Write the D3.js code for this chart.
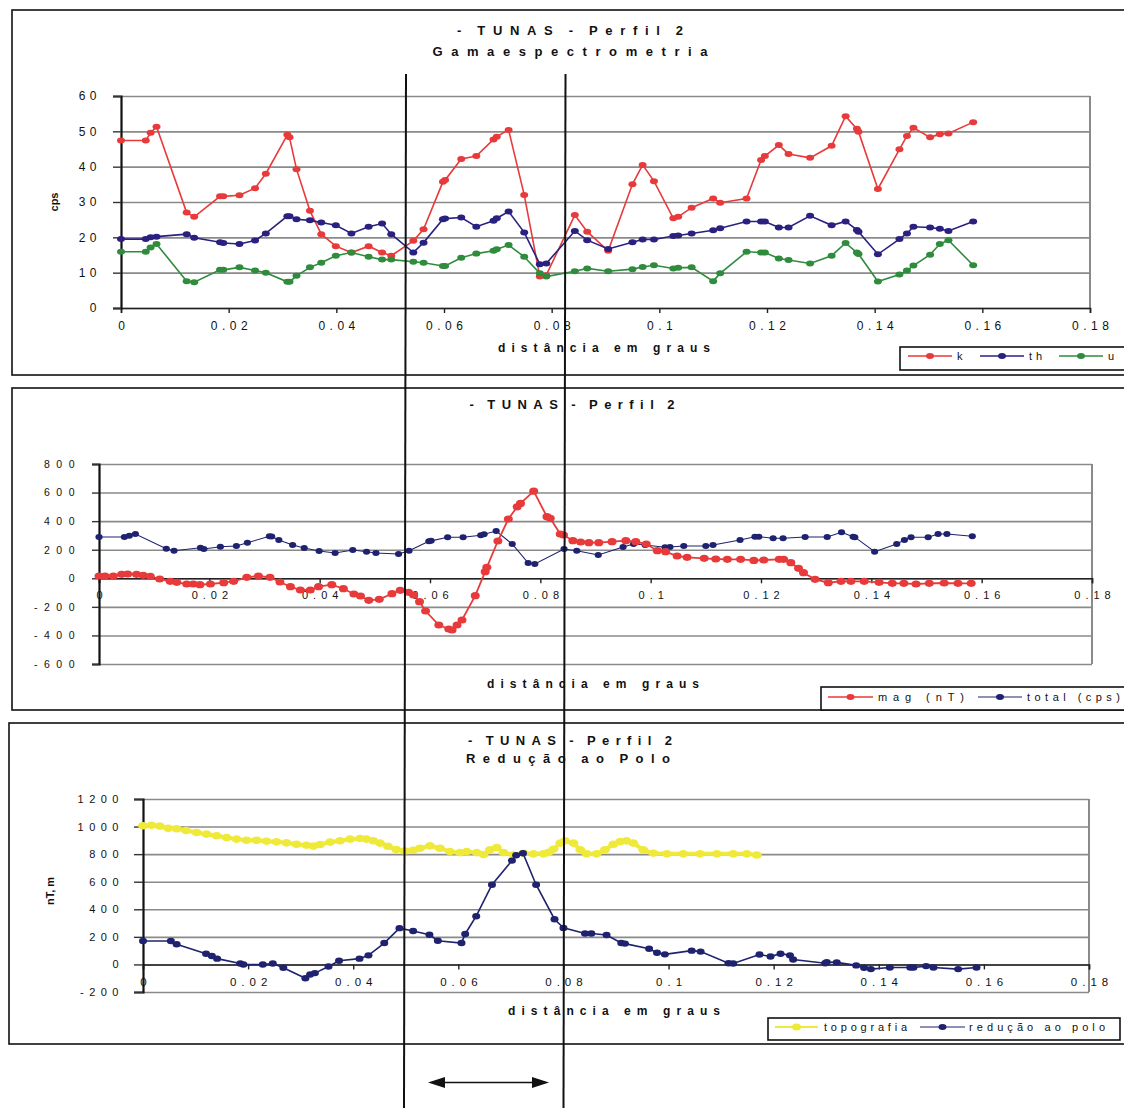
<!DOCTYPE html>
<html>
<head>
<meta charset="utf-8">
<script src="https://cdn.jsdelivr.net/npm/d3@7"></script>
<style>
  body { margin: 0; background: #fff; }
  svg { display: block; }
  text { font-family: "Liberation Sans", Arial, sans-serif; fill: #111; }
</style>
</head>
<body>
<svg id="chart" width="1124" height="1108"></svg>
<script>
// ---- Gamma spectrometry: station distances (degrees) and counts (cps)
const gammaDist = [0,0.0046,0.0055,0.0066,0.0122,0.0136,0.0184,0.019,0.022,0.0249,
  0.0269,0.0309,0.0313,0.0326,0.0351,0.0372,0.0399,0.0428,0.046,0.0485,
  0.0502,0.0543,0.0562,0.0598,0.0602,0.0632,0.066,0.0692,0.0698,0.072,
  0.0749,0.0778,0.079,0.0843,0.0866,0.0905,0.095,0.0969,0.099,0.1026,
  0.1035,0.106,0.11,0.1113,0.1162,0.1189,0.1196,0.1222,0.124,0.128,
  0.132,0.1346,0.1367,0.137,0.1406,0.1446,0.146,0.1472,0.1503,0.1521,
  0.1537,0.1583];
const kCps = [47.4,47.4,49.6,51.3,27.0,25.8,31.6,31.6,31.9,33.9,
  38.0,49.0,48.3,39.3,27.5,20.9,17.5,15.7,17.5,15.7,
  14.8,19.0,22.3,35.7,36.2,42.2,43.0,47.7,48.5,50.4,
  32.0,8.9,9.3,26.3,21.6,16.2,35.0,40.5,35.9,25.4,
  25.8,28.4,31.0,29.8,31.0,41.9,43.0,46.1,43.6,42.5,
  45.9,54.3,50.7,49.9,33.7,44.9,48.7,51.0,48.3,49.2,
  49.4,52.6];
const thCps = [19.5,19.5,20.0,20.2,20.9,19.9,18.6,18.4,18.1,19.1,
  21.1,26.0,26.0,25.1,24.8,24.2,23.4,21.1,23.0,23.9,
  20.9,15.7,18.5,25.1,25.3,25.6,23.0,24.7,25.4,27.3,
  21.4,12.4,12.6,21.8,19.2,16.7,18.6,19.4,19.4,20.4,
  20.5,21.1,22.0,22.6,24.5,24.5,24.5,22.8,22.8,26.1,
  23.4,24.5,22.1,21.6,15.2,19.5,21.1,23.0,22.8,22.4,
  21.8,24.5];
const uCps = [15.9,15.9,17.1,18.1,7.6,7.3,10.8,10.8,11.5,10.6,
  10.0,7.4,7.4,9.1,11.5,12.8,14.8,15.7,14.5,13.7,
  13.7,13.1,12.8,11.9,11.9,14.2,15.4,16.2,16.6,17.8,
  14.5,9.8,8.9,10.4,11.2,10.4,11.0,11.6,12.1,11.2,
  11.4,11.5,7.6,9.8,15.9,15.7,15.7,14.0,13.6,12.6,
  14.8,18.4,15.7,15.3,7.5,9.5,10.6,12.0,15.1,18.1,
  19.2,12.1];
const totalCps = [289,289,298,310,207,193,214,205,221,226,
  249,294,292,268,233,212,191,177,198,186,
  177,170,193,259,262,287,287,301,308,331,
  240,107,100,205,193,163,219,240,233,217,
  219,226,226,233,268,291,291,280,280,289,
  289,322,291,288,186,240,268,287,287,310,
  310,294];

// ---- Magnetometry (nT)
const magDist = [0,0.0011,0.0026,0.0041,0.0052,0.0068,0.008,0.0093,0.011,0.0129,
  0.0141,0.0159,0.0171,0.0183,0.0202,0.0226,0.0244,0.0268,0.0289,0.031,
  0.0328,0.0347,0.0365,0.0383,0.0398,0.0422,0.0443,0.0462,0.0474,0.0489,
  0.0508,0.0531,0.0546,0.0561,0.057,0.0581,0.0592,0.0616,0.0634,0.064,
  0.0649,0.0658,0.0682,0.07,0.0703,0.0723,0.0742,0.0758,0.0764,0.0788,
  0.0812,0.0818,0.0836,0.0842,0.0859,0.0873,0.0888,0.0906,0.093,0.0955,
  0.0973,0.0992,0.1012,0.1027,0.1048,0.1066,0.1097,0.1118,0.1139,0.1163,
  0.1187,0.1205,0.1233,0.1241,0.1254,0.1268,0.1277,0.1298,0.1322,0.1345,
  0.1363,0.1387,0.1414,0.1438,0.1459,0.1481,0.1505,0.1532,0.1557,0.1581];
const magNT = [16,16,16,28,30,28,21,14,-5,-21,
  -28,-40,-40,-45,-40,-31,-21,7,16,7,
  -26,-59,-82,-82,-59,-45,-73,-110,-124,-154,
  -147,-108,-84,-98,-117,-164,-229,-327,-355,-362,
  -327,-292,-122,46,77,261,415,500,524,610,
  431,420,310,303,263,254,249,249,256,263,
  256,240,193,186,156,147,140,135,133,133,
  125,128,133,133,109,70,39,-7,-31,-21,
  -21,-21,-28,-35,-35,-40,-35,-33,-35,-35];

// ---- Topography (m)
const topoDist = [0,0.0016,0.0032,0.0048,0.0064,0.0082,0.0102,0.0121,0.014,0.0159,
  0.0178,0.0197,0.0216,0.0235,0.0254,0.0273,0.0292,0.0311,0.0324,0.0337,
  0.0356,0.0375,0.0394,0.0413,0.0425,0.0438,0.0451,0.0466,0.0482,0.0498,
  0.0514,0.0527,0.0546,0.0565,0.0584,0.0603,0.0616,0.0635,0.0648,0.066,
  0.0673,0.0686,0.0705,0.0724,0.0743,0.0762,0.0771,0.0781,0.0794,0.0803,
  0.0819,0.0832,0.0844,0.0863,0.0879,0.0895,0.0908,0.092,0.0933,0.0952,
  0.0971,0.0997,0.1028,0.106,0.1092,0.1123,0.1149,0.1168];
const topoM = [1006,1010,1003,988,984,971,957,945,933,921,
  909,901,901,894,889,882,872,865,858,870,
  887,897,909,914,909,897,880,857,833,823,
  828,843,860,843,818,811,818,811,797,831,
  848,811,794,807,802,802,811,836,880,896,
  880,831,802,802,831,872,891,896,880,831,
  807,802,802,802,802,802,802,794];

// ---- Reduction to the pole (nT)
const rtpDist = [0,0.0053,0.0064,0.012,0.0131,0.0141,0.0185,0.0191,0.0228,0.0247,
  0.0267,0.0309,0.0318,0.0327,0.0353,0.0373,0.0412,0.0429,0.0459,0.0488,
  0.0514,0.0545,0.0561,0.0606,0.0613,0.0634,0.0664,0.0702,0.071,0.0723,
  0.0748,0.0783,0.08,0.0841,0.0853,0.0882,0.091,0.0917,0.0963,0.0978,
  0.0993,0.1044,0.1061,0.1114,0.1123,0.1173,0.1194,0.1213,0.1231,0.1237,
  0.1298,0.1301,0.132,0.1357,0.1372,0.1385,0.1421,0.146,0.1466,0.149,
  0.1504,0.1551,0.1586];
const rtpNT = [170,170,146,78,61,42,7,0,0,7,
  -24,-100,-73,-63,-15,27,42,66,155,263,
  243,215,172,155,221,350,578,753,792,807,
  578,328,265,224,224,214,155,151,114,85,
  73,100,93,9,7,72,58,78,66,36,
  9,17,15,-7,-24,-34,-22,-22,-22,-12,
  -22,-34,-22];

// ---- Axis ticks
const xTicks = [0,0.02,0.04,0.06,0.08,0.1,0.12,0.14,0.16,0.18];
const xTickLabels = ["0","0.02","0.04","0.06","0.08","0.1","0.12","0.14","0.16","0.18"];
const gammaTicks = [0,10,20,30,40,50,60];
const magTicks = [-600,-400,-200,0,200,400,600,800];
const rtpTicks = [-200,0,200,400,600,800,1000,1200];

// ---- Texts
const profileTitle = "- TUNAS - Perfil 2";
const gammaSubtitle = "Gamaespectrometria";
const rtpSubtitle = "Redução ao Polo";
const distLabel = "distância em graus";

const svg = d3.select("#chart");

function spacedText(g, str, x, y, opts) {
  const t = g.append("text").attr("x", x).attr("y", y).text(str)
    .attr("font-size", opts.size || 12)
    .attr("font-weight", opts.bold ? "bold" : "normal")
    .attr("text-anchor", opts.anchor || "start");
  if (opts.len) t.attr("textLength", opts.len).attr("lengthAdjust", "spacing");
  if (opts.wordSpacing !== undefined) t.style("word-spacing", opts.wordSpacing + "px");
  if (opts.rotate) t.attr("transform", `rotate(-90,${x},${y})`);
  return t;
}

function drawPanel(p) {
  const g = svg.append("g");
  const x = d3.scaleLinear().domain([0, 0.18]).range([p.left, p.right]);
  const y = d3.scaleLinear().domain(p.yDomain).range([p.bottom, p.top]);

  // panel frame
  g.append("rect")
    .attr("x", p.frame[0]).attr("y", p.frame[1])
    .attr("width", p.frame[2]).attr("height", p.frame[3])
    .attr("fill", "#fff").attr("stroke", "#111").attr("stroke-width", 1.6);

  // horizontal gridlines
  g.append("g").attr("transform", `translate(${p.left},0)`)
    .call(d3.axisLeft(y).tickValues(p.yTicks).tickSize(-(p.right - p.left)).tickFormat(""))
    .call(s => {
      s.select(".domain").remove();
      s.selectAll("line").attr("stroke", "#8a8a8a").attr("stroke-width", 1.6);
    });
  // right border of the plot area
  g.append("line").attr("x1", p.right).attr("x2", p.right)
    .attr("y1", p.top).attr("y2", p.bottom)
    .attr("stroke", "#8a8a8a").attr("stroke-width", 2);

  // x axis on the zero line
  g.append("g").attr("transform", `translate(0,${y(0)})`)
    .call(d3.axisBottom(x).tickValues(xTicks).tickSizeOuter(0).tickSize(5).tickPadding(p.xPad)
      .tickFormat((d, i) => xTickLabels[i]))
    .call(s => {
      s.select(".domain").attr("stroke", "#222").attr("stroke-width", 1.6);
      s.selectAll("line").attr("stroke", "#222").attr("stroke-width", 1.4);
      s.selectAll("text").attr("font-size", p.xFont).attr("fill", "#111")
        .attr("font-family", "Liberation Sans, Arial, sans-serif")
        .style("letter-spacing", p.xSpacing + "px")
        .attr("dx", (p.xSpacing / 2) + "px");
    });

  // y axis
  g.append("g").attr("transform", `translate(${p.left},0)`)
    .call(d3.axisLeft(y).tickValues(p.yTicks).tickSizeOuter(0).tickSize(p.yTickLen).tickPadding(p.yPad)
      .tickFormat(d => String(d)))
    .call(s => {
      s.select(".domain").attr("stroke", "#111").attr("stroke-width", 2.2);
      s.selectAll("line").attr("stroke", "#333").attr("stroke-width", 1.4);
      s.selectAll("text").attr("font-size", p.yFont).attr("fill", "#111")
        .attr("font-family", "Liberation Sans, Arial, sans-serif")
        .style("letter-spacing", p.ySpacing + "px");
    });

  // series: line plus oval markers
  p.series.forEach(se => {
    const pts = se.xs.map((d, i) => [x(d), y(se.ys[i])]);
    g.append("path").attr("d", d3.line()(pts))
      .attr("fill", "none").attr("stroke", se.color).attr("stroke-width", se.width);
    g.append("g").selectAll("ellipse").data(pts).join("ellipse")
      .attr("cx", d => d[0]).attr("cy", d => d[1])
      .attr("rx", se.rx).attr("ry", se.ry).attr("fill", se.color);
  });

  // titles
  p.titles.forEach(t => spacedText(g, t.text, t.x, t.y,
    { size: 13, bold: true, anchor: "middle", len: t.len, wordSpacing: -3 }));
  spacedText(g, distLabel, p.xTitle.x, p.xTitle.y, { size: 12, bold: true, anchor: "middle", len: p.xTitle.len });
  if (p.yTitle) spacedText(g, p.yTitle.text, p.yTitle.x, p.yTitle.y, { size: 11, bold: true, anchor: "middle", rotate: true });

  // legend
  const L = p.legend;
  g.append("rect").attr("x", L.box[0]).attr("y", L.box[1]).attr("width", L.box[2]).attr("height", L.box[3])
    .attr("fill", "#fff").attr("stroke", "#111").attr("stroke-width", 1.6);
  L.items.forEach(it => {
    g.append("line").attr("x1", it.x1).attr("x2", it.x2).attr("y1", L.cy).attr("y2", L.cy)
      .attr("stroke", it.color).attr("stroke-width", it.width);
    g.append("ellipse").attr("cx", (it.x1 + it.x2) / 2).attr("cy", L.cy)
      .attr("rx", it.rx).attr("ry", it.ry).attr("fill", it.color);
    spacedText(g, it.label, it.tx, L.cy + 4, { size: 11, len: it.len });
  });
}

const RED = "#e83a3a", NAVY = "#2a2080", GREEN = "#2e8c3c", NAVY2 = "#1f226e", YELLOW = "#efea3a";

// Gamma spectrometry panel
drawPanel({
  frame: [12, 10, 1130, 365],
  left: 121, right: 1090, top: 96, bottom: 308,
  yDomain: [0, 60], yTicks: gammaTicks,
  yTickLen: 8, yPad: 12, yFont: 12, ySpacing: 4.5,
  xPad: 8, xFont: 12, xSpacing: 4.5,
  series: [
    { xs: gammaDist, ys: kCps, color: RED, width: 1.6, rx: 4, ry: 3 },
    { xs: gammaDist, ys: thCps, color: NAVY, width: 1.6, rx: 4, ry: 3 },
    { xs: gammaDist, ys: uCps, color: GREEN, width: 1.6, rx: 4, ry: 3 }
  ],
  titles: [
    { text: profileTitle, x: 570, y: 35, len: 226 },
    { text: gammaSubtitle, x: 570, y: 56, len: 275 }
  ],
  xTitle: { x: 604, y: 352, len: 212 },
  yTitle: { text: "cps", x: 58, y: 202 },
  legend: {
    box: [900, 347, 240, 23], cy: 356,
    items: [
      { label: "k", color: RED, x1: 908, x2: 952, tx: 957, width: 1.6, rx: 4, ry: 3 },
      { label: "th", color: NAVY, x1: 980, x2: 1024, tx: 1029, len: 13, width: 1.6, rx: 4, ry: 3 },
      { label: "u", color: GREEN, x1: 1059, x2: 1103, tx: 1108, width: 1.6, rx: 4, ry: 3 }
    ]
  }
});

// Magnetometry + total count panel
drawPanel({
  frame: [12, 388, 1130, 322],
  left: 99, right: 1092, top: 464, bottom: 664,
  yDomain: [-600, 800], yTicks: magTicks,
  yTickLen: 7, yPad: 11, yFont: 10.5, ySpacing: 6.5,
  xPad: 8, xFont: 11, xSpacing: 5,
  series: [
    { xs: gammaDist, ys: totalCps, color: NAVY2, width: 1.1, rx: 3.6, ry: 3 },
    { xs: magDist, ys: magNT, color: RED, width: 1.8, rx: 4.5, ry: 3.6 }
  ],
  titles: [
    { text: profileTitle, x: 572, y: 409, len: 205 }
  ],
  xTitle: { x: 593, y: 688, len: 212 },
  yTitle: null,
  legend: {
    box: [821, 687, 320, 23], cy: 697,
    items: [
      { label: "mag (nT)", color: RED, x1: 828, x2: 873, tx: 878, len: 86, width: 1.6, rx: 4, ry: 3 },
      { label: "total (cps)", color: NAVY2, x1: 978, x2: 1022, tx: 1027, len: 93, width: 1.2, rx: 4, ry: 3 }
    ]
  }
});

// Reduction-to-pole + topography panel
drawPanel({
  frame: [9, 723, 1130, 321],
  left: 143, right: 1089, top: 799, bottom: 992,
  yDomain: [-200, 1200], yTicks: rtpTicks,
  yTickLen: 9, yPad: 10, yFont: 11, ySpacing: 5.5,
  xPad: 8, xFont: 11.5, xSpacing: 5,
  series: [
    { xs: topoDist, ys: topoM, color: YELLOW, width: 4, rx: 5, ry: 3.8 },
    { xs: rtpDist, ys: rtpNT, color: NAVY2, width: 1.6, rx: 4, ry: 3.2 }
  ],
  titles: [
    { text: profileTitle, x: 570, y: 745, len: 204 },
    { text: rtpSubtitle, x: 568, y: 763, len: 204 }
  ],
  xTitle: { x: 614, y: 1015, len: 212 },
  yTitle: { text: "nT, m", x: 54, y: 891 },
  legend: {
    box: [768, 1018, 352, 22], cy: 1027,
    items: [
      { label: "topografia", color: YELLOW, x1: 775, x2: 818, tx: 824, len: 83, width: 2, rx: 4.5, ry: 3.5 },
      { label: "redução ao polo", color: NAVY2, x1: 920, x2: 965, tx: 969, len: 136, width: 1.2, rx: 4, ry: 3 }
    ]
  }
});

// Interval markers spanning all three panels, with a double-headed arrow between them
const ann = svg.append("g");
ann.append("line").attr("x1", 406).attr("y1", 74).attr("x2", 404).attr("y2", 1108)
  .attr("stroke", "#111").attr("stroke-width", 2);
ann.append("line").attr("x1", 565.5).attr("y1", 74).attr("x2", 563.5).attr("y2", 1108)
  .attr("stroke", "#111").attr("stroke-width", 2);
ann.append("line").attr("x1", 440).attr("x2", 537).attr("y1", 1082.5).attr("y2", 1082.5)
  .attr("stroke", "#111").attr("stroke-width", 1.6);
ann.append("path").attr("d", "M428,1082.5 L445,1077 L445,1088 Z").attr("fill", "#111");
ann.append("path").attr("d", "M549,1082.5 L532,1077 L532,1088 Z").attr("fill", "#111");
</script>
</body>
</html>
